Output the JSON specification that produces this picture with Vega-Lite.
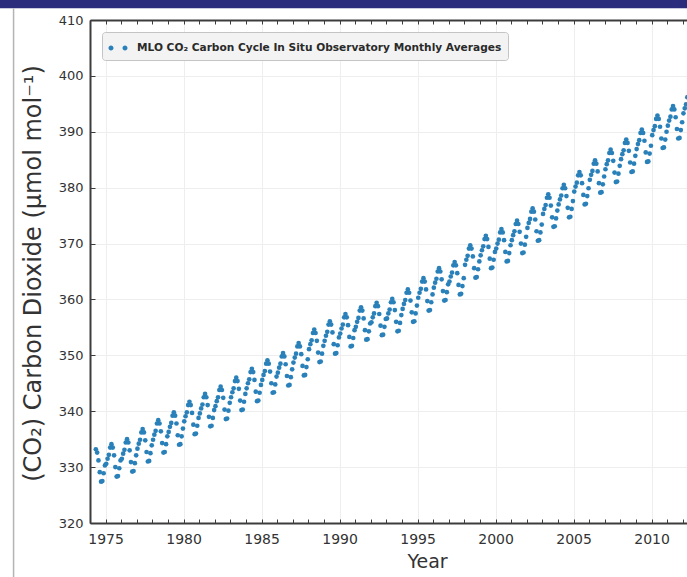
{
  "$schema": "https://vega.github.io/schema/vega-lite/v6.json",
  "width": 597,
  "height": 503,
  "autosize": {"type": "none"},
  "padding": {"left": 90, "top": 20, "right": 0, "bottom": 54},
  "background": "white",
  "config": {
    "view": {"stroke": null},
    "font": "DejaVu Sans",
    "axis": {
      "domainColor": "#3c3c3c",
      "domainWidth": 2,
      "tickColor": "#3c3c3c",
      "tickWidth": 1,
      "labelColor": "#333333",
      "titleColor": "#333333",
      "labelFont": "DejaVu Sans",
      "titleFont": "DejaVu Sans",
      "titleFontWeight": "normal",
      "gridColor": "#eeeeee",
      "gridWidth": 1
    }
  },
  "resolve": {"axis": {"x": "independent"}},
  "layer": [
    {
      "data": {"values": [{}]},
      "mark": {"type": "rect", "color": "#2b2d7c", "clip": false},
      "encoding": {
        "x": {"datum": 1960, "type": "quantitative", "scale": {"domain": [1974, 2012.27], "nice": false, "zero": false},
          "axis": {"orient": "top", "values": [1974,1975,1976,1977,1978,1979,1980,1981,1982,1983,1984,1985,1986,1987,1988,1989,1990,1991,1992,1993,1994,1995,1996,1997,1998,1999,2000,2001,2002,2003,2004,2005,2006,2007,2008,2009,2010,2011,2012], "labels": false, "tickSize": -4, "grid": false, "title": null}},
        "x2": {"datum": 2030},
        "y": {"datum": 412.1, "type": "quantitative"},
        "y2": {"datum": 416}
      }
    },
    {
      "data": {"values": [{}]},
      "mark": {"type": "rule", "color": "#b4b4b4", "strokeWidth": 1.5, "clip": false},
      "encoding": {
        "x": {"datum": 1969.1, "type": "quantitative",
          "axis": {"orient": "bottom", "values": [1975,1980,1985,1990,1995,2000,2005,2010], "labels": false, "ticks": false, "domain": false, "grid": true, "title": null}},
        "y": {"datum": 412.1, "type": "quantitative"},
        "y2": {"datum": 300}
      }
    },
    {
      "data": {"values": [
{"t":1974.375,"v":333.2},{"t":1974.458,"v":332.6},{"t":1974.542,"v":331.2},{"t":1974.625,"v":329.1},{"t":1974.708,"v":327.4},{"t":1974.792,"v":327.5},{"t":1974.875,"v":328.9},{"t":1974.958,"v":330.3},
{"t":1975.042,"v":330.6},{"t":1975.125,"v":331.5},{"t":1975.208,"v":332.2},{"t":1975.292,"v":333.5},{"t":1975.375,"v":334.1},{"t":1975.458,"v":333.5},{"t":1975.542,"v":332.1},{"t":1975.625,"v":330.0},{"t":1975.708,"v":328.3},{"t":1975.792,"v":328.4},{"t":1975.875,"v":329.8},{"t":1975.958,"v":331.2},
{"t":1976.042,"v":331.5},{"t":1976.125,"v":332.4},{"t":1976.208,"v":333.1},{"t":1976.292,"v":334.4},{"t":1976.375,"v":335.0},{"t":1976.458,"v":334.4},{"t":1976.542,"v":333.0},{"t":1976.625,"v":330.9},{"t":1976.708,"v":329.2},{"t":1976.792,"v":329.3},{"t":1976.875,"v":330.7},{"t":1976.958,"v":332.1},
{"t":1977.042,"v":333.3},{"t":1977.125,"v":334.2},{"t":1977.208,"v":334.9},{"t":1977.292,"v":336.2},{"t":1977.375,"v":336.8},{"t":1977.458,"v":336.2},{"t":1977.542,"v":334.8},{"t":1977.625,"v":332.7},{"t":1977.708,"v":331.0},{"t":1977.792,"v":331.1},{"t":1977.875,"v":332.5},{"t":1977.958,"v":333.9},
{"t":1978.042,"v":334.9},{"t":1978.125,"v":335.8},{"t":1978.208,"v":336.5},{"t":1978.292,"v":337.8},{"t":1978.375,"v":338.4},{"t":1978.458,"v":337.8},{"t":1978.542,"v":336.4},{"t":1978.625,"v":334.3},{"t":1978.708,"v":332.6},{"t":1978.792,"v":332.7},{"t":1978.875,"v":334.1},{"t":1978.958,"v":335.5},
{"t":1979.042,"v":336.3},{"t":1979.125,"v":337.2},{"t":1979.208,"v":337.9},{"t":1979.292,"v":339.2},{"t":1979.375,"v":339.8},{"t":1979.458,"v":339.2},{"t":1979.542,"v":337.8},{"t":1979.625,"v":335.7},{"t":1979.708,"v":334.0},{"t":1979.792,"v":334.1},{"t":1979.875,"v":335.5},{"t":1979.958,"v":336.9},
{"t":1980.042,"v":338.2},{"t":1980.125,"v":339.1},{"t":1980.208,"v":339.8},{"t":1980.292,"v":341.1},{"t":1980.375,"v":341.7},{"t":1980.458,"v":341.1},{"t":1980.542,"v":339.7},{"t":1980.625,"v":337.6},{"t":1980.708,"v":335.9},{"t":1980.792,"v":336.0},{"t":1980.875,"v":337.4},{"t":1980.958,"v":338.8},
{"t":1981.042,"v":339.6},{"t":1981.125,"v":340.5},{"t":1981.208,"v":341.2},{"t":1981.292,"v":342.5},{"t":1981.375,"v":343.1},{"t":1981.458,"v":342.5},{"t":1981.542,"v":341.1},{"t":1981.625,"v":339.0},{"t":1981.708,"v":337.3},{"t":1981.792,"v":337.4},{"t":1981.875,"v":338.8},{"t":1981.958,"v":340.2},
{"t":1982.042,"v":340.9},{"t":1982.125,"v":341.8},{"t":1982.208,"v":342.5},{"t":1982.292,"v":343.8},{"t":1982.375,"v":344.4},{"t":1982.458,"v":343.8},{"t":1982.542,"v":342.4},{"t":1982.625,"v":340.3},{"t":1982.708,"v":338.6},{"t":1982.792,"v":338.7},{"t":1982.875,"v":340.1},{"t":1982.958,"v":341.5},
{"t":1983.042,"v":342.5},{"t":1983.125,"v":343.4},{"t":1983.208,"v":344.1},{"t":1983.292,"v":345.4},{"t":1983.375,"v":346.0},{"t":1983.458,"v":345.4},{"t":1983.542,"v":344.0},{"t":1983.625,"v":341.9},{"t":1983.708,"v":340.2},{"t":1983.792,"v":340.3},{"t":1983.875,"v":341.7},{"t":1983.958,"v":343.1},
{"t":1984.042,"v":344.1},{"t":1984.125,"v":345.0},{"t":1984.208,"v":345.7},{"t":1984.292,"v":347.0},{"t":1984.375,"v":347.6},{"t":1984.458,"v":347.0},{"t":1984.542,"v":345.6},{"t":1984.625,"v":343.5},{"t":1984.708,"v":341.8},{"t":1984.792,"v":341.9},{"t":1984.875,"v":343.3},{"t":1984.958,"v":344.7},
{"t":1985.042,"v":345.6},{"t":1985.125,"v":346.5},{"t":1985.208,"v":347.2},{"t":1985.292,"v":348.5},{"t":1985.375,"v":349.1},{"t":1985.458,"v":348.5},{"t":1985.542,"v":347.1},{"t":1985.625,"v":345.0},{"t":1985.708,"v":343.3},{"t":1985.792,"v":343.4},{"t":1985.875,"v":344.8},{"t":1985.958,"v":346.2},
{"t":1986.042,"v":346.9},{"t":1986.125,"v":347.8},{"t":1986.208,"v":348.5},{"t":1986.292,"v":349.8},{"t":1986.375,"v":350.4},{"t":1986.458,"v":349.8},{"t":1986.542,"v":348.4},{"t":1986.625,"v":346.3},{"t":1986.708,"v":344.6},{"t":1986.792,"v":344.7},{"t":1986.875,"v":346.1},{"t":1986.958,"v":347.5},
{"t":1987.042,"v":348.7},{"t":1987.125,"v":349.6},{"t":1987.208,"v":350.3},{"t":1987.292,"v":351.6},{"t":1987.375,"v":352.2},{"t":1987.458,"v":351.6},{"t":1987.542,"v":350.2},{"t":1987.625,"v":348.1},{"t":1987.708,"v":346.4},{"t":1987.792,"v":346.5},{"t":1987.875,"v":347.9},{"t":1987.958,"v":349.3},
{"t":1988.042,"v":351.1},{"t":1988.125,"v":352.0},{"t":1988.208,"v":352.7},{"t":1988.292,"v":354.0},{"t":1988.375,"v":354.6},{"t":1988.458,"v":354.0},{"t":1988.542,"v":352.6},{"t":1988.625,"v":350.5},{"t":1988.708,"v":348.8},{"t":1988.792,"v":348.9},{"t":1988.875,"v":350.3},{"t":1988.958,"v":351.7},
{"t":1989.042,"v":352.6},{"t":1989.125,"v":353.5},{"t":1989.208,"v":354.2},{"t":1989.292,"v":355.5},{"t":1989.375,"v":356.1},{"t":1989.458,"v":355.5},{"t":1989.542,"v":354.1},{"t":1989.625,"v":352.0},{"t":1989.708,"v":350.3},{"t":1989.792,"v":350.4},{"t":1989.875,"v":351.8},{"t":1989.958,"v":353.2},
{"t":1990.042,"v":353.9},{"t":1990.125,"v":354.8},{"t":1990.208,"v":355.5},{"t":1990.292,"v":356.8},{"t":1990.375,"v":357.4},{"t":1990.458,"v":356.8},{"t":1990.542,"v":355.4},{"t":1990.625,"v":353.3},{"t":1990.708,"v":351.6},{"t":1990.792,"v":351.7},{"t":1990.875,"v":353.1},{"t":1990.958,"v":354.5},
{"t":1991.042,"v":355.1},{"t":1991.125,"v":356.0},{"t":1991.208,"v":356.7},{"t":1991.292,"v":358.0},{"t":1991.375,"v":358.6},{"t":1991.458,"v":358.0},{"t":1991.542,"v":356.6},{"t":1991.625,"v":354.5},{"t":1991.708,"v":352.8},{"t":1991.792,"v":352.9},{"t":1991.875,"v":354.3},{"t":1991.958,"v":355.7},
{"t":1992.042,"v":355.9},{"t":1992.125,"v":356.8},{"t":1992.208,"v":357.5},{"t":1992.292,"v":358.8},{"t":1992.375,"v":359.4},{"t":1992.458,"v":358.8},{"t":1992.542,"v":357.4},{"t":1992.625,"v":355.3},{"t":1992.708,"v":353.6},{"t":1992.792,"v":353.7},{"t":1992.875,"v":355.1},{"t":1992.958,"v":356.5},
{"t":1993.042,"v":356.6},{"t":1993.125,"v":357.5},{"t":1993.208,"v":358.2},{"t":1993.292,"v":359.5},{"t":1993.375,"v":360.1},{"t":1993.458,"v":359.5},{"t":1993.542,"v":358.1},{"t":1993.625,"v":356.0},{"t":1993.708,"v":354.3},{"t":1993.792,"v":354.4},{"t":1993.875,"v":355.8},{"t":1993.958,"v":357.2},
{"t":1994.042,"v":358.3},{"t":1994.125,"v":359.2},{"t":1994.208,"v":359.9},{"t":1994.292,"v":361.2},{"t":1994.375,"v":361.8},{"t":1994.458,"v":361.2},{"t":1994.542,"v":359.8},{"t":1994.625,"v":357.7},{"t":1994.708,"v":356.0},{"t":1994.792,"v":356.1},{"t":1994.875,"v":357.5},{"t":1994.958,"v":358.9},
{"t":1995.042,"v":360.3},{"t":1995.125,"v":361.2},{"t":1995.208,"v":361.9},{"t":1995.292,"v":363.2},{"t":1995.375,"v":363.8},{"t":1995.458,"v":363.2},{"t":1995.542,"v":361.8},{"t":1995.625,"v":359.7},{"t":1995.708,"v":358.0},{"t":1995.792,"v":358.1},{"t":1995.875,"v":359.5},{"t":1995.958,"v":360.9},
{"t":1996.042,"v":362.1},{"t":1996.125,"v":363.0},{"t":1996.208,"v":363.7},{"t":1996.292,"v":365.0},{"t":1996.375,"v":365.6},{"t":1996.458,"v":365.0},{"t":1996.542,"v":363.6},{"t":1996.625,"v":361.5},{"t":1996.708,"v":359.8},{"t":1996.792,"v":359.9},{"t":1996.875,"v":361.3},{"t":1996.958,"v":362.7},
{"t":1997.042,"v":363.2},{"t":1997.125,"v":364.1},{"t":1997.208,"v":364.8},{"t":1997.292,"v":366.1},{"t":1997.375,"v":366.7},{"t":1997.458,"v":366.1},{"t":1997.542,"v":364.7},{"t":1997.625,"v":362.6},{"t":1997.708,"v":360.9},{"t":1997.792,"v":361.0},{"t":1997.875,"v":362.4},{"t":1997.958,"v":363.8},
{"t":1998.042,"v":366.2},{"t":1998.125,"v":367.1},{"t":1998.208,"v":367.8},{"t":1998.292,"v":369.1},{"t":1998.375,"v":369.7},{"t":1998.458,"v":369.1},{"t":1998.542,"v":367.7},{"t":1998.625,"v":365.6},{"t":1998.708,"v":363.9},{"t":1998.792,"v":364.0},{"t":1998.875,"v":365.4},{"t":1998.958,"v":366.8},
{"t":1999.042,"v":367.9},{"t":1999.125,"v":368.8},{"t":1999.208,"v":369.5},{"t":1999.292,"v":370.8},{"t":1999.375,"v":371.4},{"t":1999.458,"v":370.8},{"t":1999.542,"v":369.4},{"t":1999.625,"v":367.3},{"t":1999.708,"v":365.6},{"t":1999.792,"v":365.7},{"t":1999.875,"v":367.1},{"t":1999.958,"v":368.5},
{"t":2000.042,"v":369.1},{"t":2000.125,"v":370.0},{"t":2000.208,"v":370.7},{"t":2000.292,"v":372.0},{"t":2000.375,"v":372.6},{"t":2000.458,"v":372.0},{"t":2000.542,"v":370.6},{"t":2000.625,"v":368.5},{"t":2000.708,"v":366.8},{"t":2000.792,"v":366.9},{"t":2000.875,"v":368.3},{"t":2000.958,"v":369.7},
{"t":2001.042,"v":370.6},{"t":2001.125,"v":371.5},{"t":2001.208,"v":372.2},{"t":2001.292,"v":373.5},{"t":2001.375,"v":374.1},{"t":2001.458,"v":373.5},{"t":2001.542,"v":372.1},{"t":2001.625,"v":370.0},{"t":2001.708,"v":368.3},{"t":2001.792,"v":368.4},{"t":2001.875,"v":369.8},{"t":2001.958,"v":371.2},
{"t":2002.042,"v":372.8},{"t":2002.125,"v":373.7},{"t":2002.208,"v":374.4},{"t":2002.292,"v":375.7},{"t":2002.375,"v":376.3},{"t":2002.458,"v":375.7},{"t":2002.542,"v":374.3},{"t":2002.625,"v":372.2},{"t":2002.708,"v":370.5},{"t":2002.792,"v":370.6},{"t":2002.875,"v":372.0},{"t":2002.958,"v":373.4},
{"t":2003.042,"v":375.3},{"t":2003.125,"v":376.2},{"t":2003.208,"v":376.9},{"t":2003.292,"v":378.2},{"t":2003.375,"v":378.8},{"t":2003.458,"v":378.2},{"t":2003.542,"v":376.8},{"t":2003.625,"v":374.7},{"t":2003.708,"v":373.0},{"t":2003.792,"v":373.1},{"t":2003.875,"v":374.5},{"t":2003.958,"v":375.9},
{"t":2004.042,"v":377.0},{"t":2004.125,"v":377.9},{"t":2004.208,"v":378.6},{"t":2004.292,"v":379.9},{"t":2004.375,"v":380.5},{"t":2004.458,"v":379.9},{"t":2004.542,"v":378.5},{"t":2004.625,"v":376.4},{"t":2004.708,"v":374.7},{"t":2004.792,"v":374.8},{"t":2004.875,"v":376.2},{"t":2004.958,"v":377.6},
{"t":2005.042,"v":379.3},{"t":2005.125,"v":380.2},{"t":2005.208,"v":380.9},{"t":2005.292,"v":382.2},{"t":2005.375,"v":382.8},{"t":2005.458,"v":382.2},{"t":2005.542,"v":380.8},{"t":2005.625,"v":378.7},{"t":2005.708,"v":377.0},{"t":2005.792,"v":377.1},{"t":2005.875,"v":378.5},{"t":2005.958,"v":379.9},
{"t":2006.042,"v":381.4},{"t":2006.125,"v":382.3},{"t":2006.208,"v":383.0},{"t":2006.292,"v":384.3},{"t":2006.375,"v":384.9},{"t":2006.458,"v":384.3},{"t":2006.542,"v":382.9},{"t":2006.625,"v":380.8},{"t":2006.708,"v":379.1},{"t":2006.792,"v":379.2},{"t":2006.875,"v":380.6},{"t":2006.958,"v":382.0},
{"t":2007.042,"v":383.3},{"t":2007.125,"v":384.2},{"t":2007.208,"v":384.9},{"t":2007.292,"v":386.2},{"t":2007.375,"v":386.8},{"t":2007.458,"v":386.2},{"t":2007.542,"v":384.8},{"t":2007.625,"v":382.7},{"t":2007.708,"v":381.0},{"t":2007.792,"v":381.1},{"t":2007.875,"v":382.5},{"t":2007.958,"v":383.9},
{"t":2008.042,"v":385.1},{"t":2008.125,"v":386.0},{"t":2008.208,"v":386.7},{"t":2008.292,"v":388.0},{"t":2008.375,"v":388.6},{"t":2008.458,"v":388.0},{"t":2008.542,"v":386.6},{"t":2008.625,"v":384.5},{"t":2008.708,"v":382.8},{"t":2008.792,"v":382.9},{"t":2008.875,"v":384.3},{"t":2008.958,"v":385.7},
{"t":2009.042,"v":386.9},{"t":2009.125,"v":387.8},{"t":2009.208,"v":388.5},{"t":2009.292,"v":389.8},{"t":2009.375,"v":390.4},{"t":2009.458,"v":389.8},{"t":2009.542,"v":388.4},{"t":2009.625,"v":386.3},{"t":2009.708,"v":384.6},{"t":2009.792,"v":384.7},{"t":2009.875,"v":386.1},{"t":2009.958,"v":387.5},
{"t":2010.042,"v":389.4},{"t":2010.125,"v":390.3},{"t":2010.208,"v":391.0},{"t":2010.292,"v":392.3},{"t":2010.375,"v":392.9},{"t":2010.458,"v":392.3},{"t":2010.542,"v":390.9},{"t":2010.625,"v":388.8},{"t":2010.708,"v":387.1},{"t":2010.792,"v":387.2},{"t":2010.875,"v":388.6},{"t":2010.958,"v":390.0},
{"t":2011.042,"v":391.1},{"t":2011.125,"v":392.0},{"t":2011.208,"v":392.7},{"t":2011.292,"v":394.0},{"t":2011.375,"v":394.6},{"t":2011.458,"v":394.0},{"t":2011.542,"v":392.6},{"t":2011.625,"v":390.5},{"t":2011.708,"v":388.8},{"t":2011.792,"v":388.9},{"t":2011.875,"v":390.3},{"t":2011.958,"v":391.7},
{"t":2012.042,"v":393.3},{"t":2012.125,"v":394.2},{"t":2012.208,"v":394.9},{"t":2012.292,"v":396.2}
      ]},
      "mark": {"type": "point", "filled": true, "size": 22, "opacity": 1, "clip": true},
      "encoding": {
        "x": {"field": "t", "type": "quantitative",
          "axis": {"orient": "bottom", "values": [1974,1975,1976,1977,1978,1979,1980,1981,1982,1983,1984,1985,1986,1987,1988,1989,1990,1991,1992,1993,1994,1995,1996,1997,1998,1999,2000,2001,2002,2003,2004,2005,2006,2007,2008,2009,2010,2011,2012],
            "format": "d", "labelExpr": "datum.value % 5 === 0 ? datum.label : ''", "labelOverlap": false, "labelFlush": false,
            "grid": false, "tickSize": -4, "labelPadding": 13, "labelFontSize": 14,
            "title": "Year", "titleFontSize": 19, "titleX": 337, "titleY": 38, "titleBaseline": "middle", "titleAnchor": null}},
        "y": {"field": "v", "type": "quantitative", "scale": {"domain": [320, 410], "nice": false, "zero": false},
          "axis": {"values": [320,330,340,350,360,370,380,390,400,410], "grid": true, "tickSize": -5, "labelPadding": 12, "labelFontSize": 13,
            "title": "(CO₂) Carbon Dioxide (μmol mol⁻¹)", "titleFontSize": 24, "titleX": -57, "titleY": 253, "titleBaseline": "middle"}},
        "color": {"datum": "MLO CO₂ Carbon Cycle In Situ Observatory Monthly Averages", "type": "nominal",
          "scale": {"range": ["#2a80b9"]},
          "legend": {"title": null, "orient": "none", "legendX": 12, "legendY": 12,
            "fillColor": "#f3f3f3", "strokeColor": "#c4c4c4", "cornerRadius": 3, "padding": 6,
            "labelFont": "DejaVu Sans", "labelFontSize": 10.6, "labelFontWeight": "bold", "labelColor": "#2a2a2a", "labelOffset": 9, "labelLimit": 0,
            "symbolType": "M-0.95,0A0.25,0.25,0,1,0,-0.45,0A0.25,0.25,0,1,0,-0.95,0ZM0.45,0A0.25,0.25,0,1,0,0.95,0A0.25,0.25,0,1,0,0.45,0Z",
            "symbolSize": 400, "symbolStrokeWidth": 0, "symbolFillColor": "#2a80b9"}}
      }
    }
  ]
}
